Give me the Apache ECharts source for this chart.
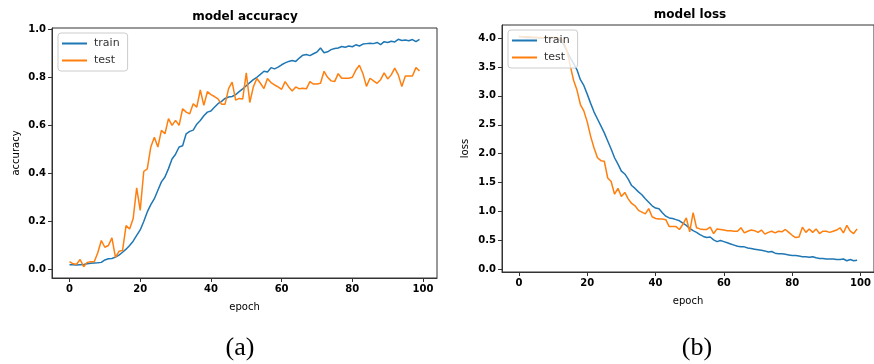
<!DOCTYPE html>
<html>
<head>
<meta charset="utf-8">
<script src="https://cdn.jsdelivr.net/npm/echarts@6/dist/echarts.min.js"></script>
<style>
html,body{margin:0;padding:0;background:#fff;}
#c{width:874px;height:364px;}
</style>
</head>
<body>
<div id="c"></div>
<script>
// ---- data ----
const epochTicks = [0, 20, 40, 60, 80, 100];
const accTicks = [0.0, 0.2, 0.4, 0.6, 0.8, 1.0];
const lossTicks = [0.0, 0.5, 1.0, 1.5, 2.0, 2.5, 3.0, 3.5, 4.0];

const trainAcc = [0.020,0.020,0.019,0.020,0.021,0.024,0.026,0.027,0.028,0.030,
  0.040,0.045,0.046,0.052,0.060,0.072,0.085,0.100,0.118,0.142,
  0.165,0.200,0.240,0.270,0.295,0.330,0.365,0.385,0.420,0.460,
  0.480,0.510,0.515,0.565,0.575,0.580,0.605,0.620,0.640,0.655,
  0.660,0.675,0.690,0.700,0.712,0.718,0.720,0.728,0.740,0.752,
  0.765,0.778,0.790,0.800,0.812,0.825,0.822,0.840,0.835,0.842,
  0.852,0.860,0.866,0.870,0.866,0.880,0.892,0.895,0.890,0.898,
  0.905,0.922,0.902,0.906,0.915,0.920,0.922,0.928,0.925,0.930,
  0.927,0.935,0.930,0.938,0.940,0.942,0.940,0.945,0.936,0.948,
  0.945,0.950,0.947,0.958,0.953,0.955,0.952,0.957,0.948,0.958];

const testAcc = [0.033,0.024,0.022,0.042,0.012,0.030,0.033,0.033,0.070,0.121,
  0.093,0.100,0.132,0.051,0.076,0.079,0.183,0.169,0.211,0.340,
  0.246,0.408,0.419,0.510,0.551,0.510,0.579,0.565,0.628,0.600,
  0.621,0.600,0.669,0.655,0.648,0.690,0.676,0.747,0.683,0.740,
  0.728,0.720,0.710,0.688,0.688,0.753,0.780,0.705,0.712,0.710,
  0.818,0.695,0.760,0.795,0.775,0.753,0.795,0.778,0.768,0.760,
  0.750,0.782,0.760,0.743,0.760,0.752,0.754,0.752,0.782,0.772,
  0.772,0.775,0.825,0.800,0.785,0.782,0.815,0.796,0.796,0.796,
  0.800,0.830,0.850,0.815,0.762,0.796,0.785,0.775,0.790,0.818,
  0.793,0.810,0.838,0.810,0.762,0.805,0.805,0.805,0.840,0.826];

const trainLoss = [4.02,4.02,4.01,4.01,4.01,4.01,4.00,4.00,4.00,4.00,
  4.00,3.99,3.96,3.90,3.78,3.66,3.56,3.45,3.28,3.18,
  3.03,2.87,2.72,2.60,2.48,2.36,2.22,2.08,1.93,1.82,
  1.70,1.65,1.56,1.45,1.40,1.34,1.29,1.22,1.16,1.10,
  1.06,1.05,0.98,0.92,0.89,0.88,0.86,0.84,0.80,0.76,
  0.71,0.67,0.64,0.60,0.57,0.55,0.56,0.51,0.48,0.50,
  0.48,0.46,0.44,0.42,0.40,0.39,0.39,0.37,0.36,0.35,
  0.34,0.33,0.32,0.30,0.31,0.28,0.27,0.27,0.26,0.25,
  0.24,0.24,0.23,0.22,0.22,0.21,0.22,0.20,0.19,0.19,
  0.18,0.18,0.18,0.17,0.17,0.18,0.15,0.17,0.15,0.16];

const testLoss = [4.03,4.02,4.02,4.02,4.01,4.01,4.01,4.01,4.01,4.01,
  4.01,4.00,4.00,3.95,3.80,3.53,3.27,3.10,2.85,2.74,
  2.55,2.30,2.10,1.93,1.88,1.87,1.58,1.52,1.30,1.40,
  1.26,1.33,1.22,1.14,1.10,1.02,0.99,0.96,1.05,0.91,
  0.88,0.87,0.87,0.86,0.74,0.74,0.74,0.69,0.78,0.89,
  0.65,0.98,0.72,0.70,0.69,0.69,0.73,0.62,0.70,0.69,
  0.68,0.67,0.67,0.66,0.66,0.72,0.63,0.66,0.68,0.67,
  0.64,0.68,0.61,0.64,0.66,0.63,0.66,0.65,0.69,0.64,
  0.59,0.55,0.56,0.73,0.64,0.70,0.64,0.70,0.62,0.66,
  0.66,0.64,0.66,0.68,0.72,0.63,0.76,0.66,0.62,0.70];

// ---- chart ----
const BLUE = '#1f77b4', ORANGE = '#ff7f0e';
const tickFont = {color:'#000', fontFamily:'DejaVu Sans', fontWeight:'bold', fontSize:10};
const nameFont = {color:'#000', fontFamily:'DejaVu Sans', fontSize:10};
const axisLineStyle = {show:true, onZero:false, lineStyle:{color:'#333', width:1}};

function xAxisCfg(gridIndex){
  return {
    type:'value', gridIndex, min:-4.95, max:103.95,
    splitLine:{show:false},
    axisLine:axisLineStyle,
    axisTick:{show:true, inside:false, length:4, lineStyle:{color:'#333', width:1}, customValues:epochTicks},
    axisLabel:Object.assign({customValues:epochTicks, margin:6, formatter:v=>String(Math.round(v))}, tickFont),
    name:'epoch', nameLocation:'middle', nameGap:24, nameTextStyle:nameFont
  };
}
function yAxisCfg(gridIndex, min, max, ticks, name, gap){
  return {
    type:'value', gridIndex, min, max,
    splitLine:{show:false},
    axisLine:axisLineStyle,
    axisTick:{show:true, inside:false, length:4, lineStyle:{color:'#333', width:1}, customValues:ticks},
    axisLabel:Object.assign({customValues:ticks, margin:6, formatter:v=>v.toFixed(1)}, tickFont),
    name, nameLocation:'middle', nameGap:gap, nameRotate:90, nameTextStyle:nameFont
  };
}
function lineSeries(name, values, idx, color){
  return {
    type:'line', name, xAxisIndex:idx, yAxisIndex:idx,
    data: values.map((v,i)=>[i,v]),
    symbol:'none', showSymbol:false, smooth:false,
    lineStyle:{color, width:1.5}, itemStyle:{color},
    animation:false
  };
}
function legendCfg(left, top){
  return {
    orient:'vertical', left, top, icon:'rect', itemWidth:25, itemHeight:2, itemGap:6,
    padding:[5,8,5,4], backgroundColor:'rgba(255,255,255,0.8)', borderColor:'#ccc', borderWidth:1, borderRadius:3,
    textStyle:{fontFamily:'DejaVu Sans', fontSize:11, color:'#333', padding:[0,0,0,2]},
    data:['train','test'], selectedMode:false
  };
}

const chart = echarts.init(document.getElementById('c'), null, {renderer:'canvas'});

chart.setOption({
  backgroundColor:'#fff',
  animation:false,
  grid:[
    {left:52, top:28, width:385, height:250, show:true, borderColor:'#333', borderWidth:1, backgroundColor:'transparent'},
    {left:502, top:25, width:380, height:247, show:true, borderColor:'#333', borderWidth:1, backgroundColor:'transparent'}
  ],
  xAxis:[xAxisCfg(0), xAxisCfg(1)],
  yAxis:[
    yAxisCfg(0, -0.035, 1.005, accTicks, 'accuracy', 31),
    yAxisCfg(1, -0.045, 4.225, lossTicks, 'loss', 32)
  ],
  legend:[legendCfg(58, 33), legendCfg(508, 30)],
  series:[
    lineSeries('train', trainAcc, 0, BLUE),
    lineSeries('test', testAcc, 0, ORANGE),
    lineSeries('train', trainLoss, 1, BLUE),
    lineSeries('test', testLoss, 1, ORANGE)
  ],
  graphic:[
    {type:'text', x:245, y:17, style:{text:'model accuracy', textAlign:'center', textVerticalAlign:'middle', font:'bold 12px "DejaVu Sans"', fill:'#000'}},
    {type:'text', x:690, y:15, style:{text:'model loss', textAlign:'center', textVerticalAlign:'middle', font:'bold 12px "DejaVu Sans"', fill:'#000'}},
    {type:'text', x:240, y:348, style:{text:'(a)', textAlign:'center', textVerticalAlign:'middle', font:'26px "Liberation Serif"', fill:'#000'}},
    {type:'text', x:697, y:348, style:{text:'(b)', textAlign:'center', textVerticalAlign:'middle', font:'26px "Liberation Serif"', fill:'#000'}}
  ]
});
</script>
</body>
</html>
